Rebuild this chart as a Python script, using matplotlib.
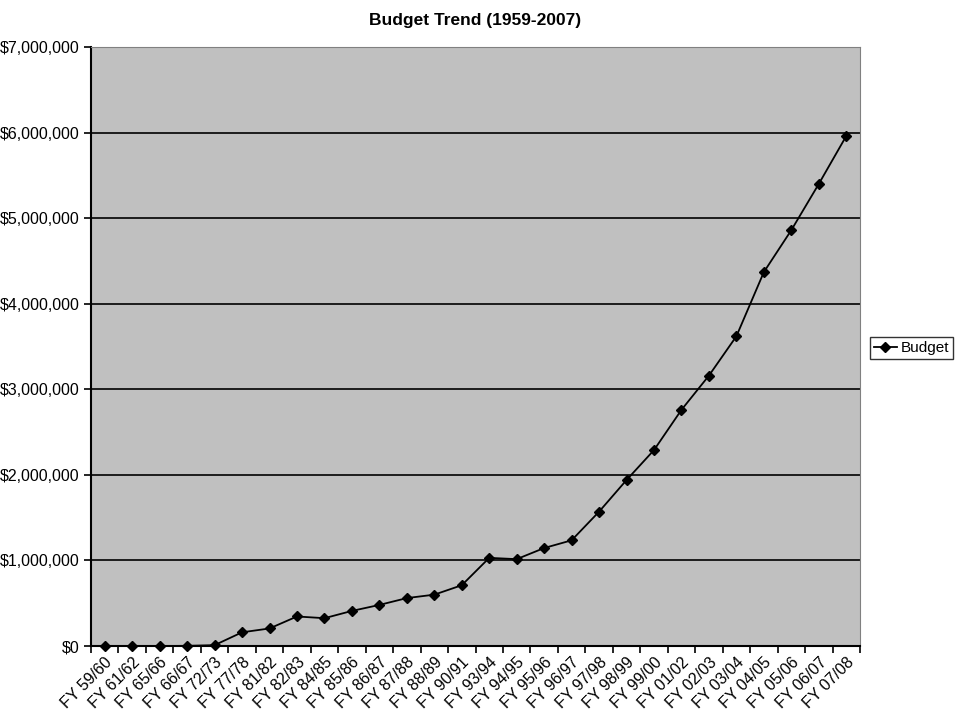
import matplotlib
matplotlib.use("Agg")
import matplotlib.pyplot as plt
from matplotlib.ticker import FuncFormatter, FixedLocator

plt.rcParams['font.family'] = ['Liberation Sans', 'DejaVu Sans']

years = ["FY 59/60", "FY 61/62", "FY 65/66", "FY 66/67", "FY 72/73", "FY 77/78",
         "FY 81/82", "FY 82/83", "FY 84/85", "FY 85/86", "FY 86/87", "FY 87/88",
         "FY 88/89", "FY 90/91", "FY 93/94", "FY 94/95", "FY 95/96", "FY 96/97",
         "FY 97/98", "FY 98/99", "FY 99/00", "FY 01/02", "FY 02/03", "FY 03/04",
         "FY 04/05", "FY 05/06", "FY 06/07", "FY 07/08"]
budget = [0, 0, 0, 2000, 10000, 160000, 205000, 345000, 325000, 410000,
          480000, 560000, 600000, 710000, 1030000, 1015000, 1145000, 1235000,
          1570000, 1940000, 2290000, 2760000, 3160000, 3620000, 4370000,
          4860000, 5400000, 5960000]

fig = plt.figure(figsize=(9.61, 7.12), dpi=100)
ax = fig.add_axes([91/961, 1 - 646/712, (860 - 91)/961, (646 - 47)/712])
ax.set_facecolor("#c0c0c0")

x = list(range(len(years)))
ax.plot(x, budget, color="black", lw=1.3, marker="D", ms=5, label="Budget",
        clip_on=False, zorder=3)

ax.set_xlim(-0.5, len(years) - 0.5)
ax.set_ylim(0, 7000000)
ax.set_yticks(range(0, 7000001, 1000000))
ax.yaxis.set_major_formatter(FuncFormatter(lambda v, p: "${:,.0f}".format(v)))
ax.yaxis.grid(True, color="black", lw=1.2)
ax.set_axisbelow(True)

ax.set_xticks(x)
ax.set_xticklabels(years, rotation=45, ha="right", rotation_mode="anchor")
ax.tick_params(axis="x", length=0, labelsize=11.5, pad=6)
ax.xaxis.set_minor_locator(FixedLocator([i - 0.5 for i in range(len(years) + 1)]))
ax.tick_params(axis="x", which="minor", length=5, width=1.2, color="black")
ax.tick_params(axis="y", length=5, width=1.2, labelsize=11.5, pad=3)

for s in ["top", "right"]:
    ax.spines[s].set_color("#808080")
for s in ["left", "bottom"]:
    ax.spines[s].set_color("black")
    ax.spines[s].set_linewidth(1.5)

fig.text(0.5 * (91 + 860) / 961, 1 - 20/712, "Budget Trend (1959-2007)",
         ha="center", va="center", fontsize=12.5, fontweight="bold")

leg = fig.legend(loc="center left", bbox_to_anchor=(870/961, 1 - 348/712),
                 frameon=True, fancybox=False, edgecolor="black", fontsize=11,
                 handlelength=1.5, borderpad=0.25, handletextpad=0.25,
                 borderaxespad=0)
leg.get_frame().set_linewidth(1.0)

fig.savefig("out.png", dpi=100)
